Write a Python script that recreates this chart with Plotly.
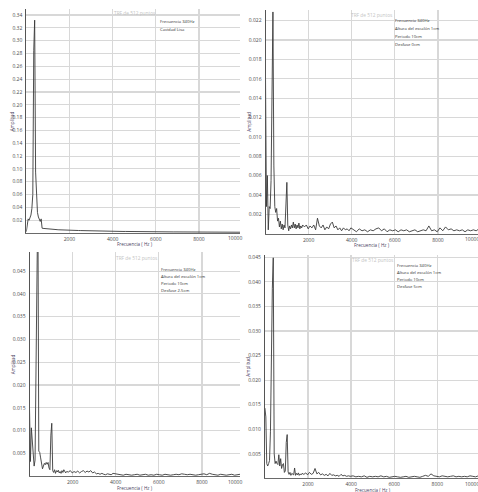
import plotly.graph_objects as go

# ---------------- data ----------------
freq_hz = [0, 43, 86, 129, 172, 215, 258, 301, 345, 388,
           431, 474, 517, 560, 603, 646, 689, 732, 775, 818,
           861, 904, 947, 991, 1034, 1077, 1120, 1163, 1206, 1249,
           1292, 1335, 1378, 1421, 1464, 1507, 1550, 1593, 1637, 1680,
           1723,
           1809, 1895, 1981, 2067, 2153, 2239, 2326, 2412, 2498, 2584,
           2670, 2756, 2842, 2929, 3015, 3101, 3187, 3273, 3359, 3445,
           3531, 3618, 3704, 3790, 3876, 3962,
           4091, 4221, 4350, 4479, 4608, 4737, 4866, 4996, 5125, 5254,
           5383, 5513, 5642, 5771, 5900, 6029, 6158, 6288, 6417, 6546,
           6675, 6804, 6934, 7063, 7192, 7321, 7450, 7580, 7709, 7838,
           7967, 8096, 8226, 8355, 8484, 8613, 8742, 8872, 9001, 9130,
           9259, 9388, 9518, 9647, 9776, 9905, 10034]

amp_lisa = [0.002, 0.010, 0.022, 0.020, 0.024, 0.028, 0.038, 0.060, 0.285, 0.332,
            0.095, 0.045, 0.032, 0.025, 0.020, 0.018, 0.022, 0.0075, 0.0072, 0.0070,
            0.0068, 0.0066, 0.0065, 0.0063, 0.0062, 0.0060, 0.0059, 0.0058, 0.0057, 0.0056,
            0.0055, 0.0054, 0.0053, 0.0052, 0.0051, 0.0050, 0.0050, 0.0049, 0.0048, 0.0048,
            0.0047,
            0.0046, 0.0045, 0.0044, 0.0043, 0.0042, 0.0041, 0.0040, 0.0039, 0.0038, 0.0037,
            0.0036, 0.0035, 0.0034, 0.0034, 0.0033, 0.0032, 0.0031, 0.0031, 0.0030, 0.0029,
            0.0029, 0.0028, 0.0028, 0.0027, 0.0027, 0.0026,
            0.0026, 0.0025, 0.0025, 0.0024, 0.0024, 0.0023, 0.0023, 0.0022, 0.0022, 0.0021,
            0.0021, 0.0021, 0.0020, 0.0020, 0.0020, 0.0019, 0.0019, 0.0019, 0.0018, 0.0018,
            0.0018, 0.0017, 0.0017, 0.0017, 0.0017, 0.0016, 0.0016, 0.0016, 0.0016, 0.0015,
            0.0015, 0.0015, 0.0015, 0.0014, 0.0014, 0.0014, 0.0014, 0.0014, 0.0013, 0.0013,
            0.0013, 0.0013, 0.0013, 0.0012, 0.0012, 0.0012, 0.0012]

amp_desfase_0 = [0.0162, 0.0028, 0.0060, 0.0004, 0.0028, 0.0026, 0.0055, 0.0197, 0.0229, 0.0070,
                 0.0028, 0.0022, 0.0026, 0.0013, 0.0016, 0.0007, 0.0013, 0.0005, 0.0010, 0.0004,
                 0.0009, 0.0006, 0.0044, 0.0053, 0.0009, 0.0003, 0.0008, 0.0005, 0.0009, 0.0006,
                 0.0012, 0.0006, 0.0010, 0.0005, 0.0009, 0.0006, 0.0011, 0.0005, 0.0008, 0.0006,
                 0.0009,
                 0.0007, 0.0009, 0.0005, 0.0008, 0.0006, 0.0009, 0.0004, 0.0016, 0.0008, 0.0006,
                 0.0009, 0.0004, 0.0007, 0.0005, 0.0010, 0.0012, 0.0006, 0.0008, 0.0004, 0.0006,
                 0.0003, 0.0006, 0.0004, 0.0005, 0.0003, 0.0006,
                 0.0004, 0.0002, 0.0005, 0.0003, 0.0004, 0.0002, 0.0004, 0.0003, 0.0005, 0.0006,
                 0.0003, 0.0005, 0.0002, 0.0004, 0.0003, 0.0004, 0.0002, 0.0004, 0.0003, 0.0004,
                 0.0002, 0.0003, 0.0004, 0.0002, 0.0003, 0.0004, 0.0003, 0.0008, 0.0003, 0.0004,
                 0.0002, 0.0006, 0.0003, 0.0007, 0.0004, 0.0005, 0.0003, 0.0004, 0.0003, 0.0004,
                 0.0002, 0.0004, 0.0003, 0.0004, 0.0003, 0.0005, 0.0004]

amp_desfase_25 = [0.0149, 0.0032, 0.0106, 0.0075, 0.0055, 0.0022, 0.0035, 0.0273, 0.0423, 0.0620,
                  0.0055, 0.0052, 0.0040, 0.0030, 0.0016, 0.0022, 0.0028, 0.0025, 0.0030, 0.0026,
                  0.0030, 0.0018, 0.0014, 0.0090, 0.0116, 0.0012, 0.0008, 0.0014, 0.0006, 0.0012,
                  0.0009, 0.0013, 0.0007, 0.0010, 0.0006, 0.0012, 0.0008, 0.0014, 0.0009, 0.0007,
                  0.0010,
                  0.0009, 0.0012, 0.0007, 0.0010, 0.0008, 0.0011, 0.0007, 0.0010, 0.0012, 0.0008,
                  0.0011, 0.0009, 0.0012, 0.0007, 0.0009, 0.0005, 0.0006, 0.0004, 0.0006, 0.0004,
                  0.0003, 0.0005, 0.0004, 0.0003, 0.0006, 0.0005,
                  0.0004, 0.0003, 0.0002, 0.0004, 0.0003, 0.0002, 0.0003, 0.0004, 0.0002, 0.0003,
                  0.0004, 0.0002, 0.0003, 0.0002, 0.0004, 0.0003, 0.0002, 0.0004, 0.0003, 0.0002,
                  0.0003, 0.0004, 0.0003, 0.0005, 0.0004, 0.0003, 0.0004, 0.0003, 0.0002, 0.0003,
                  0.0004, 0.0005, 0.0003, 0.0006, 0.0004, 0.0003, 0.0002, 0.0004, 0.0003, 0.0002,
                  0.0003, 0.0004, 0.0002, 0.0003, 0.0004, 0.0003, 0.0004]

amp_desfase_5 = [0.0143, 0.0125, 0.0030, 0.0025, 0.0030, 0.0036, 0.0096, 0.0258, 0.0387, 0.0449,
                 0.0050, 0.0030, 0.0035, 0.0030, 0.0028, 0.0048, 0.0025, 0.0040, 0.0020, 0.0028,
                 0.0030, 0.0012, 0.0015, 0.0073, 0.0089, 0.0013, 0.0008, 0.0012, 0.0006, 0.0010,
                 0.0009, 0.0007, 0.0021, 0.0006, 0.0010, 0.0007, 0.0011, 0.0006, 0.0009, 0.0007,
                 0.0010,
                 0.0008, 0.0011, 0.0007, 0.0012, 0.0008, 0.0010, 0.0020, 0.0009, 0.0012, 0.0007,
                 0.0009, 0.0006, 0.0008, 0.0005, 0.0010, 0.0006, 0.0007, 0.0005, 0.0006, 0.0004,
                 0.0008, 0.0005, 0.0006, 0.0004, 0.0005, 0.0004,
                 0.0005, 0.0003, 0.0004, 0.0003, 0.0005, 0.0002, 0.0004, 0.0003, 0.0004, 0.0003,
                 0.0005, 0.0003, 0.0004, 0.0002, 0.0003, 0.0004, 0.0003, 0.0002, 0.0003, 0.0004,
                 0.0002, 0.0003, 0.0004, 0.0003, 0.0002, 0.0004, 0.0006, 0.0004, 0.0009, 0.0005,
                 0.0004, 0.0003, 0.0005, 0.0004, 0.0003, 0.0004, 0.0005, 0.0003, 0.0004, 0.0003,
                 0.0004, 0.0003, 0.0005, 0.0004, 0.0003, 0.0005, 0.0007]

for name, arr in [("lisa", amp_lisa), ("d0", amp_desfase_0), ("d25", amp_desfase_25), ("d5", amp_desfase_5)]:
    if len(arr) != len(freq_hz):
        raise ValueError(f"{name}: {len(arr)} vs {len(freq_hz)}")

x_tick_vals = [2000, 4000, 6000, 8000]
x_tick_text = ["2000", "4000", "6000", "8000"]
last_x_label = "10000"

y_ticks_lisa = [0.02, 0.04, 0.06, 0.08, 0.10, 0.12, 0.14, 0.16, 0.18, 0.20,
                0.22, 0.24, 0.26, 0.28, 0.30, 0.32, 0.34]
y_text_lisa = ["0.02", "0.04", "0.06", "0.08", "0.10", "0.12", "0.14", "0.16", "0.18", "0.20",
               "0.22", "0.24", "0.26", "0.28", "0.30", "0.32", "0.34"]
y_ticks_d0 = [0.002, 0.004, 0.006, 0.008, 0.010, 0.012, 0.014, 0.016, 0.018, 0.020, 0.022]
y_text_d0 = ["0.002", "0.004", "0.006", "0.008", "0.010", "0.012", "0.014", "0.016", "0.018", "0.020", "0.022"]
y_ticks_d = [0.005, 0.010, 0.015, 0.020, 0.025, 0.030, 0.035, 0.040, 0.045]
y_text_d = ["0.005", "0.010", "0.015", "0.020", "0.025", "0.030", "0.035", "0.040", "0.045"]

chart_title = "TRF de 512 puntos"
x_title = "Frecuencia ( Hz )"
y_title = "Amplitud"
notes_lisa = ["Frecuencia 340Hz", "Cavidad Lisa"]
notes_d0 = ["Frecuencia 340Hz", "Altura del escalón 1cm", "Periodo 10cm", "Desfase 0cm"]
notes_d25 = ["Frecuencia 340Hz", "Altura del escalón 1cm", "Periodo 10cm", "Desfase 2.5cm"]
notes_d5 = ["Frecuencia 340Hz", "Altura del escalón 1cm", "Periodo 10cm", "Desfase 5cm"]

# ---------------- layout (pixel geometry) ----------------
W, H = 478, 492
FONT = "Open Sans, Noto Sans, sans-serif"


def fx(p):
    return p / W


def fy(p):
    return 1 - p / H


panels = [
    dict(amp=amp_lisa, yt=y_ticks_lisa, ytx=y_text_lisa, notes=notes_lisa,
         x0=26.3, x1=240, s2000=43.17, ytop=9, yzero=233, ymax=0.3494,
         title_xy=(134.5, 13), note_x=158.3, note_y0=21, note_dy=8,
         xt_xy=(135, 244), yt_x=12.3, last_x=243.5, tick_y=238),
    dict(amp=amp_desfase_0, yt=y_ticks_d0, ytx=y_text_d0, notes=notes_d0,
         x0=265.5, x1=478, s2000=43.1, ytop=10, yzero=233.7, ymax=0.0231,
         title_xy=(372, 15), note_x=393.3, note_y0=20.7, note_dy=7.9,
         xt_xy=(372, 245), yt_x=249, last_x=481, tick_y=238.5),
    dict(amp=amp_desfase_25, yt=y_ticks_d, ytx=y_text_d, notes=notes_d25,
         x0=29.5, x1=240, s2000=43.1, ytop=252, yzero=476.1, ymax=0.0492,
         title_xy=(136.7, 258.3), note_x=159.3, note_y0=269, note_dy=7.2,
         xt_xy=(135, 488), yt_x=13.3, last_x=243.5, tick_y=482),
    dict(amp=amp_desfase_5, yt=y_ticks_d, ytx=y_text_d, notes=notes_d5,
         x0=264.9, x1=478, s2000=43.1, ytop=255, yzero=478.3, ymax=0.04547,
         title_xy=(372.5, 260), note_x=394.7, note_y0=265, note_dy=7.2,
         xt_xy=(373, 490), yt_x=248, last_x=481, tick_y=484),
]

fig = go.Figure()
annotations = []
layout_axes = {}

grid_col = "#d8d8d8"
tick_font = dict(family=FONT, size=5.0, color="#4a4a4a")

for i, p in enumerate(panels, start=1):
    xa = "x" if i == 1 else f"x{i}"
    ya = "y" if i == 1 else f"y{i}"
    fig.add_trace(go.Scatter(x=freq_hz, y=p["amp"], mode="lines",
                             line=dict(color="#3a3a3a", width=0.9),
                             xaxis=xa, yaxis=ya, showlegend=False,
                             hoverinfo="skip"))
    xmax = (p["x1"] - p["x0"]) / p["s2000"] * 2000
    xkey = "xaxis" if i == 1 else f"xaxis{i}"
    ykey = "yaxis" if i == 1 else f"yaxis{i}"
    layout_axes[xkey] = dict(
        domain=[fx(p["x0"]), fx(p["x1"])], range=[0, xmax], anchor=ya,
        tickvals=x_tick_vals, ticktext=x_tick_text, tickfont=tick_font,
        showgrid=True, gridcolor=grid_col, gridwidth=1.3,
        showline=True, linecolor="#6a6a6a", linewidth=1,
        zeroline=False, ticks="", ticklabelstandoff=1, fixedrange=True)
    layout_axes[ykey] = dict(
        domain=[fy(p["yzero"]), fy(p["ytop"])], range=[0, p["ymax"]], anchor=xa,
        tickvals=p["yt"], ticktext=p["ytx"], tickfont=tick_font,
        showgrid=True, gridcolor=grid_col, gridwidth=1.1,
        showline=True, linecolor="#555555", linewidth=1,
        zeroline=False, ticks="", ticklabelstandoff=2, fixedrange=True)

    # chart title
    annotations.append(dict(text=chart_title, x=fx(p["title_xy"][0]), y=fy(p["title_xy"][1]),
                            xref="paper", yref="paper", showarrow=False,
                            xanchor="center", yanchor="middle",
                            font=dict(family=FONT, size=4.8, color="#c4c4c4")))
    # notes
    for k, line in enumerate(p["notes"]):
        annotations.append(dict(text=line, x=fx(p["note_x"]), y=fy(p["note_y0"] + k * p["note_dy"]),
                                xref="paper", yref="paper", showarrow=False,
                                xanchor="left", yanchor="middle",
                                font=dict(family=FONT, size=4.2, color="#333333")))
    # axis titles
    annotations.append(dict(text=x_title, x=fx(p["xt_xy"][0]), y=fy(p["xt_xy"][1]),
                            xref="paper", yref="paper", showarrow=False,
                            xanchor="center", yanchor="middle",
                            font=dict(family=FONT, size=4.6, color="#4a4060")))
    annotations.append(dict(text=y_title, x=fx(p["yt_x"]), y=fy((p["ytop"] + p["yzero"]) / 2),
                            xref="paper", yref="paper", showarrow=False, textangle=-90,
                            xanchor="center", yanchor="middle",
                            font=dict(family=FONT, size=4.6, color="#4a4060")))
    # last x tick label (sits at the edge of the original chart canvas)
    annotations.append(dict(text=last_x_label, x=fx(p["last_x"]), y=fy(p["tick_y"]),
                            xref="paper", yref="paper", showarrow=False,
                            xanchor="right", yanchor="middle",
                            font=tick_font))

fig.update_layout(
    width=W, height=H,
    margin=dict(l=0, r=0, t=0, b=0),
    paper_bgcolor="white", plot_bgcolor="white",
    font=dict(family=FONT),
    annotations=annotations,
    **layout_axes,
)

fig.write_html("out.html",
               config={"displayModeBar": False, "staticPlot": True},
               post_script="document.body.style.margin='0';document.body.style.overflow='hidden';")
